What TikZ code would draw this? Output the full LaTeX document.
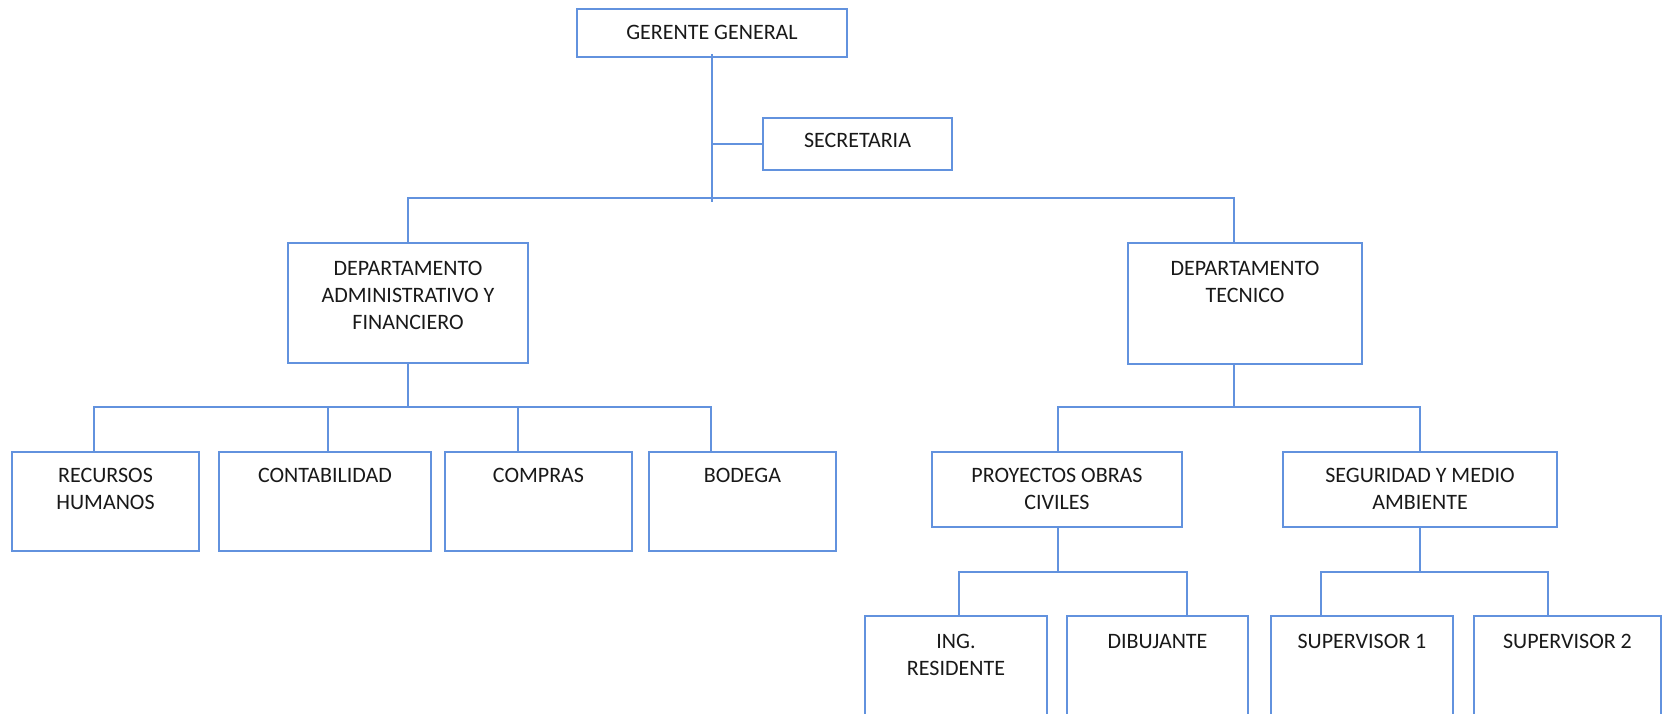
\documentclass[tikz,border=0pt]{standalone}
\usepackage{fontspec}
\setmainfont{Carlito}
\definecolor{ln}{RGB}{98,146,222}
\definecolor{tx}{RGB}{25,25,25}
\begin{document}
\begin{tikzpicture}[x=1pt,y=-1pt,
  box/.style={draw=ln,line width=2.2pt,inner sep=0pt,outer sep=0pt,fill=none},
  lbl/.style={anchor=north,inner sep=0pt,align=center,text=tx,font=\fontsize{22}{27}\selectfont},
  con/.style={draw=ln,line width=2.2pt}]
\useasboundingbox (0,0) rectangle (1665,714);
\fill[white] (0,0) rectangle (1665,714);
\clip (0,0) rectangle (1665,714);
% boxes
\node[box,minimum width=270pt,minimum height=48pt] (gg) at (712,33) {};
\node[box,minimum width=189pt,minimum height=52pt] (sec) at (857.5,144) {};
\node[box,minimum width=240pt,minimum height=120pt] (da) at (408,303) {};
\node[box,minimum width=234pt,minimum height=121pt] (dt) at (1245,303.5) {};
\node[box,minimum width=187pt,minimum height=99pt] (rh) at (105.5,501.5) {};
\node[box,minimum width=212pt,minimum height=99pt] (co) at (325,501.5) {};
\node[box,minimum width=187pt,minimum height=99pt] (cp) at (538.5,501.5) {};
\node[box,minimum width=187pt,minimum height=99pt] (bo) at (742.5,501.5) {};
\node[box,minimum width=250pt,minimum height=75pt] (po) at (1057,489.5) {};
\node[box,minimum width=274pt,minimum height=75pt] (se) at (1420,489.5) {};
\node[box,minimum width=182pt,minimum height=144pt] (ir) at (956,688) {};
\node[box,minimum width=181pt,minimum height=144pt] (di) at (1157.5,688) {};
\node[box,minimum width=182pt,minimum height=144pt] (s1) at (1362,688) {};
\node[box,minimum width=187pt,minimum height=144pt] (s2) at (1567.5,688) {};
% labels
\node[lbl] (gg-t) at (712,25) {GERENTE GENERAL};
\node[lbl] (sec-t) at (857.5,133) {SECRETARIA};
\node[lbl] (da-t) at (408,261) {DEPARTAMENTO\\ADMINISTRATIVO Y\\FINANCIERO};
\node[lbl] (dt-t) at (1245,261) {DEPARTAMENTO\\TECNICO};
\node[lbl] (rh-t) at (105.5,468) {RECURSOS\\HUMANOS};
\node[lbl] (co-t) at (325,468) {CONTABILIDAD};
\node[lbl] (cp-t) at (538.5,468) {COMPRAS};
\node[lbl] (bo-t) at (742.5,468) {BODEGA};
\node[lbl] (po-t) at (1057,468) {PROYECTOS OBRAS\\CIVILES};
\node[lbl] (se-t) at (1420,468) {SEGURIDAD Y MEDIO\\AMBIENTE};
\node[lbl] (ir-t) at (956,634) {ING.\\RESIDENTE};
\node[lbl] (di-t) at (1157.5,634) {DIBUJANTE};
\node[lbl] (s1-t) at (1362,634) {SUPERVISOR 1};
\node[lbl] (s2-t) at (1567.5,634) {SUPERVISOR 2};
% attach points and buses
\coordinate (trunk) at (712,202);
\coordinate (bus1) at (0,198);
\coordinate (bus2) at (0,407);
\coordinate (bus4) at (0,572);
\coordinate (dt-in) at ([xshift=-11pt]dt.north);
\coordinate (dt-out) at ([xshift=-11pt]dt.south);
\coordinate (rh-in) at ([xshift=-11.5pt]rh.north);
\coordinate (co-in) at ([xshift=3pt]co.north);
\coordinate (cp-in) at ([xshift=-20.5pt]cp.north);
\coordinate (bo-in) at ([xshift=-31.5pt]bo.north);
\coordinate (po-in) at ([xshift=1pt]po.north);
\coordinate (po-out) at ([xshift=1pt]po.south);
\coordinate (ir-in) at ([xshift=3pt]ir.north);
\coordinate (di-in) at ([xshift=29.5pt]di.north);
\coordinate (s1-in) at ([xshift=-41pt]s1.north);
\coordinate (s2-in) at ([xshift=-19.5pt]s2.north);
% connectors
\draw[con] ([yshift=3pt]gg.south) -- (trunk);
\draw[con] (sec.west) -- (sec.west -| gg.south);
\draw[con] (da.north) |- (dt-in |- bus1) -- (dt-in);
\draw[con] (da.south) -- (da.south |- bus2);
\draw[con] (rh-in) |- (bo-in |- bus2) -- (bo-in);
\draw[con] (co-in) -- (co-in |- bus2);
\draw[con] (cp-in) -- (cp-in |- bus2);
\draw[con] (dt-out) -- (dt-out |- bus2);
\draw[con] (po-in) |- (se.north |- bus2) -- (se.north);
\draw[con] (po-out) -- (po-out |- bus4);
\draw[con] (ir-in) |- (di-in |- bus4) -- (di-in);
\draw[con] (se.south) -- (se.south |- bus4);
\draw[con] (s1-in) |- (s2-in |- bus4) -- (s2-in);
\end{tikzpicture}
\end{document}
